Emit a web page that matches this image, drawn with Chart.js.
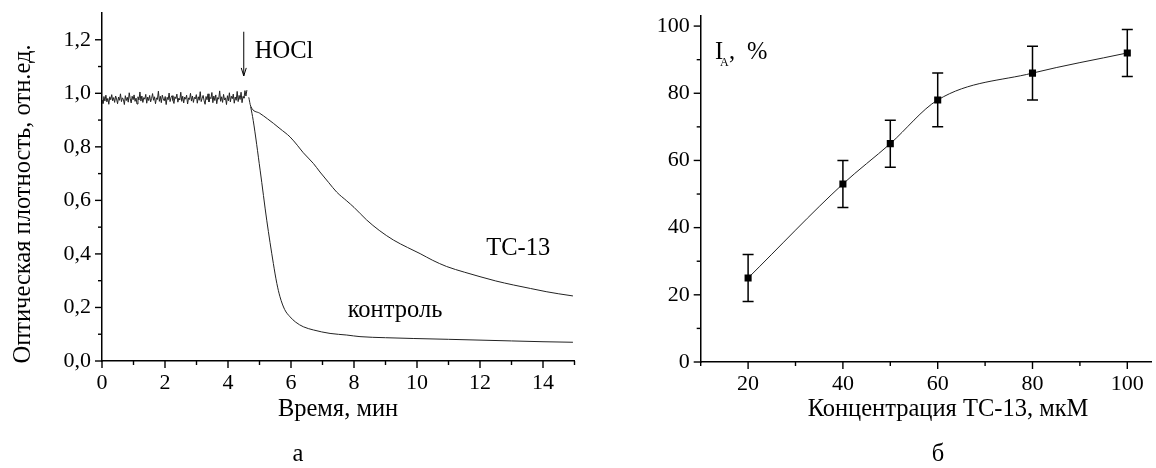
<!DOCTYPE html>
<html><head><meta charset="utf-8">
<script src="https://cdn.jsdelivr.net/npm/chart.js"></script>
<style>
html,body{margin:0;padding:0;background:#fff;}
#wrap{position:relative;width:1156px;height:468px;overflow:hidden;}
#c1{position:absolute;left:0;top:0;}
#c2{position:absolute;left:590px;top:0;}
</style></head>
<body><div id="wrap"><canvas id="c1" width="590" height="468"></canvas><canvas id="c2" width="566" height="468"></canvas></div>
<script>
// ---------- Panel а data ----------
const baseStart = 0, baseEnd = 4.6;
const baseVals = [
0.975,0.962,0.988,0.971,0.993,0.968,0.981,0.959,0.987,0.976,
0.995,0.972,0.984,0.966,0.990,0.979,0.961,0.986,0.974,0.998,
0.969,0.983,0.977,0.958,0.991,0.973,0.985,0.967,1.002,0.980,
0.964,0.989,0.976,0.994,0.970,0.982,0.960,0.987,0.975,1.005,
0.971,0.990,0.966,0.984,0.978,0.996,0.963,0.986,0.973,0.992,
0.968,0.981,0.999,0.974,0.987,0.961,0.983,0.977,1.008,0.970,
0.989,0.965,0.993,0.979,0.972,0.988,0.958,0.985,0.976,1.001,
0.969,0.984,0.991,0.973,0.962,0.987,0.980,0.997,0.967,0.982,
0.975,1.004,0.970,0.989,0.964,0.986,0.978,0.993,0.960,0.983,
0.977,1.000,0.971,0.990,0.966,0.985,0.979,0.995,0.963,0.987,
0.974,1.006,0.969,0.982,0.992,0.972,0.959,0.988,0.976,0.998,
0.968,0.985,0.980,1.003,0.965,0.990,0.973,0.994,0.961,0.984,
0.978,1.009,0.970,0.987,0.966,0.996,0.975,0.983,0.958,0.991,
0.972,1.002,0.968,0.989,0.980,0.997,0.963,0.986,0.974,1.007,
0.969,0.992,0.977,1.004,0.965,0.988,0.982,1.010,0.990,1.012
];
const tcTimes = [4.66,4.72,5.00,5.25,5.44,5.65,5.97,6.20,6.39,6.71,6.92,7.20,7.45,7.77,8.00,8.40,8.80,9.25,9.70,10.1,10.5,10.94,11.5,12.0,12.5,13.06,13.6,14.1,14.5,14.95];
const tcVals  = [0.985,0.952,0.926,0.905,0.888,0.868,0.837,0.806,0.778,0.738,0.706,0.666,0.631,0.598,0.574,0.527,0.488,0.452,0.424,0.401,0.376,0.353,0.332,0.315,0.299,0.284,0.271,0.259,0.251,0.243];
const ctrlTimes = [4.72,4.80,5.02,5.23,5.44,5.55,5.65,5.80,5.97,6.15,6.39,6.71,7.24,7.77,8.19,9.0,9.9,11.0,12.0,13.0,14.0,14.95];
const ctrlVals  = [0.950,0.899,0.713,0.526,0.364,0.290,0.240,0.192,0.165,0.145,0.128,0.116,0.103,0.097,0.091,0.087,0.084,0.081,0.078,0.075,0.072,0.070];
const xTicksA = [0,2,4,6,8,10,12,14];
const yTickValsA = [0,0.2,0.4,0.6,0.8,1.0,1.2];
const yTicksA = ['0,0','0,2','0,4','0,6','0,8','1,0','1,2'];

// ---------- Panel б data ----------
const conc   = [20,40,50,60,80,100];
const inhib  = [25,53,65,78,86,92];
const errLo  = [18,46,58,70,78,85];
const errHi  = [32,60,72,86,94,99];
const xTicksB = [20,40,60,80,100];
const yTicksB = [0,20,40,60,80,100];

const FONT = '"Liberation Serif", "Times New Roman", serif';
const INK = '#000';
const LINE = '#222';
const TICKFONT = '22px ' + FONT;
const TITLEFONT = '24.5px ' + FONT;

function pts(xs, ys){ return xs.map((x,i)=>({x:x, y:ys[i]})); }
const baseData = baseVals.map((v,i)=>({x: baseStart + i*(baseEnd-baseStart)/(baseVals.length-1), y: v}));

// axis plugin: tick marks (major/minor, outward) + tick labels
function axisPlugin(cfg){
  return {
    id:'axis_'+Math.random().toString(36).slice(2),
    afterDraw(chart){
      const ctx = chart.ctx, ca = chart.chartArea;
      const xs = chart.scales.x, ys = chart.scales.y;
      ctx.save(); ctx.strokeStyle = INK; ctx.lineWidth = 1.4;
      cfg.xMarks.forEach(t=>{
        const px = xs.getPixelForValue(t.v);
        ctx.beginPath(); ctx.moveTo(px, ca.bottom); ctx.lineTo(px, ca.bottom + (t.major?7:4)); ctx.stroke();
      });
      cfg.yMarks.forEach(t=>{
        const py = ys.getPixelForValue(t.v);
        ctx.beginPath(); ctx.moveTo(ca.left, py); ctx.lineTo(ca.left - (t.major?7:4), py); ctx.stroke();
      });
      ctx.fillStyle = INK; ctx.font = TICKFONT;
      ctx.textAlign = 'center'; ctx.textBaseline = 'middle';
      cfg.xLabels.forEach(l=>{ ctx.fillText(l.t, xs.getPixelForValue(l.v), ca.bottom + 22); });
      ctx.textAlign = 'right';
      cfg.yLabels.forEach(l=>{ ctx.fillText(l.t, ca.left - 11, ys.getPixelForValue(l.v)); });
      ctx.restore();
    }
  };
}
function textPlugin(fn){ return { id:'txt_'+Math.random().toString(36).slice(2), afterDraw(chart){ const ctx=chart.ctx; ctx.save(); ctx.fillStyle=INK; fn(chart, ctx); ctx.restore(); } }; }

const hiddenAxis = (min, max) => ({ type:'linear', min:min, max:max,
  border:{color:INK, width:1.5},
  grid:{display:true, drawOnChartArea:false, drawTicks:false},
  ticks:{display:false} });

// ---------- Panel а ----------
const cfgA = { xMarks:[], yMarks:[],
  xLabels: xTicksA.map(v=>({v:v, t:String(v)})),
  yLabels: yTickValsA.map((v,i)=>({v:v, t:yTicksA[i]})) };
for (let i=0;i<=15;i++) cfgA.xMarks.push({v:i, major: i%2===0});
for (let i=0;i<=12;i++) cfgA.yMarks.push({v:i/10, major: i%2===0});

const xA = hiddenAxis(0, 15); xA.afterFit = (s)=>{ s.height = 107; };
const yA = hiddenAxis(0, 1.3); yA.afterFit = (s)=>{ s.width = 102; };

new Chart(document.getElementById('c1'), {
  type:'line',
  data:{ datasets:[
    {data: baseData, borderColor: LINE, borderWidth: 1, pointRadius: 0, tension: 0},
    {data: pts(tcTimes, tcVals), borderColor: LINE, borderWidth: 1, pointRadius: 0, cubicInterpolationMode:'monotone'},
    {data: pts(ctrlTimes, ctrlVals), borderColor: LINE, borderWidth: 1, pointRadius: 0, cubicInterpolationMode:'monotone'}
  ]},
  options:{
    responsive:false, animation:false, devicePixelRatio:1,
    layout:{padding:{left:0, top:13, right:15.5, bottom:0}},
    plugins:{legend:{display:false}, tooltip:{enabled:false}},
    scales:{ x:xA, y:yA }
  },
  plugins:[ axisPlugin(cfgA), textPlugin((chart, ctx)=>{
    const xs = chart.scales.x, ys = chart.scales.y;
    ctx.font = TITLEFONT;
    ctx.textBaseline = 'middle';
    ctx.save(); ctx.translate(24, 204); ctx.rotate(-Math.PI/2); ctx.textAlign='center';
    ctx.fillText('Оптическая плотность, отн.ед.', 0, 0); ctx.restore();
    ctx.textAlign='center';
    ctx.fillText('Время, мин', 338, 410);
    ctx.fillText('а', 298, 455);
    ctx.textAlign='left';
    ctx.fillText('HOCl', xs.getPixelForValue(4.85), ys.getPixelForValue(1.155));
    ctx.fillText('ТС-13', xs.getPixelForValue(12.2), ys.getPixelForValue(0.42));
    ctx.fillText('контроль', xs.getPixelForValue(7.8), ys.getPixelForValue(0.19));
    const ax = xs.getPixelForValue(4.5), ay1 = ys.getPixelForValue(1.23), ay2 = ys.getPixelForValue(1.065);
    ctx.strokeStyle = INK; ctx.lineWidth = 1;
    ctx.beginPath(); ctx.moveTo(ax, ay1); ctx.lineTo(ax, ay2); ctx.stroke();
    ctx.beginPath(); ctx.moveTo(ax-2.5, ay2-8); ctx.lineTo(ax, ay2); ctx.lineTo(ax+2.5, ay2-8); ctx.stroke();
  }) ]
});

// ---------- Panel б ----------
const cfgB = { xMarks:[], yMarks:[],
  xLabels: xTicksB.map(v=>({v:v, t:String(v)})),
  yLabels: yTicksB.map(v=>({v:v, t:String(v)})) };
for (let v=10; v<=100; v+=10) cfgB.xMarks.push({v:v, major: v%20===0});
for (let v=0; v<=100; v+=10) cfgB.yMarks.push({v:v, major: v%20===0});

const errPlugin = {
  id:'errbars',
  beforeDatasetsDraw(chart){
    const ctx = chart.ctx, xs = chart.scales.x, ys = chart.scales.y;
    ctx.save(); ctx.strokeStyle = INK; ctx.lineWidth = 1.5;
    conc.forEach((c,i)=>{
      const px = xs.getPixelForValue(c), p1 = ys.getPixelForValue(errLo[i]), p2 = ys.getPixelForValue(errHi[i]);
      ctx.beginPath(); ctx.moveTo(px, p1); ctx.lineTo(px, p2);
      ctx.moveTo(px-5.5, p1); ctx.lineTo(px+5.5, p1);
      ctx.moveTo(px-5.5, p2); ctx.lineTo(px+5.5, p2); ctx.stroke();
    });
    ctx.restore();
  }
};

const xB = hiddenAxis(10, 105); xB.afterFit = (s)=>{ s.height = 106; };
const yB = hiddenAxis(0, 103); yB.afterFit = (s)=>{ s.width = 110.7; };

new Chart(document.getElementById('c2'), {
  type:'line',
  data:{ datasets:[
    {data: pts(conc, inhib), borderColor: LINE, borderWidth: 1, cubicInterpolationMode:'monotone',
     pointStyle:'rect', pointRadius:5, pointBackgroundColor:'#000', pointBorderColor:'#000', pointBorderWidth:0}
  ]},
  options:{
    responsive:false, animation:false, devicePixelRatio:1,
    layout:{padding:{left:0, top:16, right:3, bottom:0}},
    plugins:{legend:{display:false}, tooltip:{enabled:false}},
    scales:{ x:xB, y:yB }
  },
  plugins:[ errPlugin, axisPlugin(cfgB), textPlugin((chart, ctx)=>{
    ctx.font = TITLEFONT;
    ctx.textBaseline = 'middle'; ctx.textAlign = 'center';
    ctx.fillText('Концентрация ТС-13, мкМ', 948-590, 410);
    ctx.fillText('б', 938-590, 455);
    ctx.textAlign = 'left'; ctx.textBaseline = 'alphabetic';
    ctx.fillText('I', 715-590, 58.5);
    ctx.font = '12px ' + FONT;
    ctx.fillText('A', 720-590, 66);
    ctx.font = TITLEFONT;
    ctx.fillText(',', 729-590, 58.5);
    ctx.fillText('%', 747-590, 58.5);
  }) ]
});
</script></body></html>
